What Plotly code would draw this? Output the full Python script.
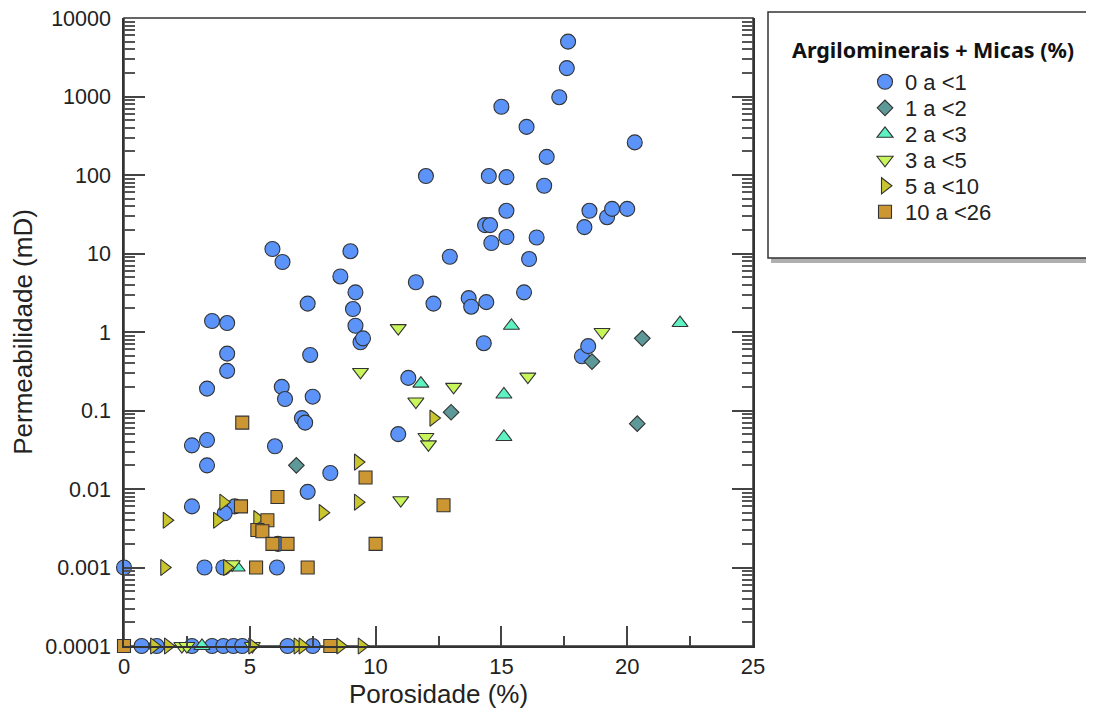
import plotly.graph_objects as go

# ---- data (porosity %, permeability mD) ----
c0_x = [17.65, 17.6, 17.3, 15.0, 16.0, 20.3, 16.8, 16.7, 12.0, 14.5, 15.2, 15.2, 14.35, 14.55, 14.6,
        15.2, 16.4, 16.1, 15.9, 18.3, 18.5, 19.2, 19.4, 20.0, 18.2, 18.45, 5.9, 6.3, 9.0, 8.6,
        11.6, 12.95, 9.2, 9.1, 7.3, 12.3, 13.7, 13.8, 14.4, 9.2, 9.4, 9.5, 14.3, 3.5, 4.1,
        4.1, 4.1, 3.3, 6.27, 6.4, 7.4, 7.5, 7.07, 7.2, 11.3, 10.9, 2.7, 3.3, 3.3, 6.0,
        8.2, 7.3, 2.7, 4.4, 4.0, 6.12, 0.0, 3.2, 3.95, 6.08,
        0.7, 1.3, 2.7, 3.5, 3.95, 4.35, 4.7, 6.5, 7.5]
c0_y = [5000, 2300, 980, 740, 410, 260, 170, 73, 97, 97, 94, 35, 23, 23, 13.6,
        16.2, 16, 8.5, 3.2, 21.7, 35, 29, 37, 37, 0.49, 0.66, 11.4, 7.8, 10.7, 5.1,
        4.3, 9.1, 3.2, 1.96, 2.3, 2.3, 2.7, 2.1, 2.4, 1.2, 0.74, 0.83, 0.72, 1.38, 1.3,
        0.53, 0.32, 0.19, 0.2, 0.14, 0.51, 0.15, 0.08, 0.07, 0.26, 0.05, 0.036, 0.042, 0.02, 0.035,
        0.016, 0.0092, 0.006, 0.006, 0.0049, 0.002, 0.001, 0.001, 0.001, 0.001,
        0.0001, 0.0001, 0.0001, 0.0001, 0.0001, 0.0001, 0.0001, 0.0001, 0.0001]

c1_x = [6.85, 13.0, 18.6, 20.6, 20.4]
c1_y = [0.02, 0.095, 0.42, 0.83, 0.068]

c2_x = [15.4, 22.1, 11.8, 15.1, 15.1, 4.5, 3.1]
c2_y = [1.2, 1.3, 0.22, 0.16, 0.046, 0.001, 0.0001]

c3_x = [10.9, 19.0, 9.4, 13.1, 16.05, 11.6, 12.0, 12.1, 11.0, 4.3, 2.3, 2.5, 5.1]
c3_y = [1.12, 1.0, 0.31, 0.2, 0.27, 0.13, 0.046, 0.037, 0.0072, 0.0011, 0.0001, 0.0001, 0.0001]

c4_x = [12.3, 9.3, 9.3, 7.9, 3.95, 1.7, 3.7, 5.3, 1.6, 4.1, 1.2, 1.75, 5.1, 6.9, 7.1, 8.6, 9.45]
c4_y = [0.08, 0.022, 0.0068, 0.005, 0.0068, 0.004, 0.004, 0.0042, 0.001, 0.001,
        0.0001, 0.0001, 0.0001, 0.0001, 0.0001, 0.0001, 0.0001]

c5_x = [4.7, 9.6, 12.7, 6.1, 4.65, 5.7, 5.3, 5.5, 5.9, 6.5, 10.0, 5.25, 7.3, 0.0, 8.2]
c5_y = [0.07, 0.014, 0.0062, 0.0079, 0.006, 0.004, 0.003, 0.0029, 0.002, 0.002, 0.002,
        0.001, 0.001, 0.0001, 0.0001]

names = ["0 a <1", "1 a <2", "2 a <3", "3 a <5", "5 a <10", "10 a <26"]
legend_title = "Argilominerais + Micas (%)"
symbols = ["circle", "diamond", "triangle-up", "triangle-down", "triangle-right", "square"]
colors = ["#5b93f8", "#5e9999", "#5ef2c2", "#c8f55a", "#c9c52e", "#cc9633"]
sizes = [15, 12, 14, 14, 14, 13]

y_ticks = [1e-4, 1e-3, 1e-2, 1e-1, 1, 10, 100, 1000, 10000]
y_ticktext = ["0.0001", "0.001", "0.01", "0.1", "1", "10", "100", "1000", "10000"]
x_ticks = [0, 5, 10, 15, 20, 25]
x_minor_ticks = [2.5, 7.5, 12.5, 17.5, 22.5]

series = [(c0_x, c0_y), (c1_x, c1_y), (c2_x, c2_y), (c3_x, c3_y), (c4_x, c4_y), (c5_x, c5_y)]

# ---- geometry (page pixels; the html body adds an 8px offset) ----
W, H = 1086, 705
ML, MT, MR, MB = 116, 10, 341, 67
PX0, PY0 = ML + 8, MT + 8            # page position of plot top-left
PLOT_W, PLOT_H = W - ML - MR, H - MT - MB

def px_x(v):
    return (v - PX0) / PLOT_W

def px_y(v):
    return (PY0 + PLOT_H - v) / PLOT_H

box_l, box_r, box_t, box_b = 768, 1091, 12, 258
leg_marker_x = 885
leg_first_y, leg_step = 82, 26

fig = go.Figure()
legend_keys = ["legend"] + [f"legend{i + 1}" for i in range(1, len(names))]
for i, (xs, ys) in enumerate(series):
    fig.add_trace(go.Scatter(
        x=xs, y=ys, mode="markers", name=names[i], legend=legend_keys[i],
        marker=dict(symbol=symbols[i], size=sizes[i], color=colors[i], opacity=1,
                    line=dict(color="#333333", width=1.1)),
        cliponaxis=False, showlegend=True,
    ))

legend_font = dict(family="Liberation Sans, Arial, sans-serif", size=22, color="#222")
legends = {}
for i, key in enumerate(legend_keys):
    legends[key] = dict(
        x=px_x(leg_marker_x - 20), y=px_y(leg_first_y + leg_step * i),
        xanchor="left", yanchor="middle", font=legend_font,
        bgcolor="rgba(0,0,0,0)", borderwidth=0, itemclick=False, itemdoubleclick=False,
    )

minor_y = [m * 10 ** e for e in range(-4, 4) for m in range(2, 10)]

tick_font = dict(family="Liberation Sans, Arial, sans-serif", size=22, color="#222")
title_font = dict(family="Liberation Sans, Arial, sans-serif", size=26, color="#222")

x_common = dict(
    range=[0, 25], tickvals=x_ticks, ticks="inside", ticklen=20,
    tickwidth=1.5, tickcolor="#444", showline=True, linewidth=1.5, linecolor="#333",
    showgrid=False, zeroline=False,
    minor=dict(tickvals=x_minor_ticks, ticks="inside", ticklen=10,
               tickwidth=1.5, tickcolor="#444", showgrid=False),
)

fig.update_layout(
    width=W, height=H,
    margin=dict(l=ML, r=MR, t=MT, b=MB, autoexpand=False),
    plot_bgcolor="white", paper_bgcolor="white",
    showlegend=True,
    xaxis=dict(
        **x_common, mirror=False, tickfont=tick_font, ticklabeloverflow="allow",
        title=dict(text="Porosidade (%)", font=title_font, standoff=6),
    ),
    # top axis: carries the mirrored ticks of the frame
    xaxis2=dict(**x_common, overlaying="x", side="top", anchor="y",
                showticklabels=False, fixedrange=True),
    yaxis=dict(
        type="log", range=[-4, 4], tickvals=y_ticks, ticktext=y_ticktext,
        ticks="inside", ticklen=21, tickwidth=1.5, tickcolor="#444", showline=True,
        linewidth=1.5, linecolor="#333", mirror="allticks", showgrid=False, zeroline=False,
        tickfont=dict(tick_font, size=21.5), ticklabelstandoff=7, ticklabeloverflow="allow",
        minor=dict(tickvals=minor_y, ticks="inside", ticklen=11, tickwidth=1.5,
                   tickcolor="#555", showgrid=False),
        title=dict(text="Permeabilidade (mD)", font=title_font, standoff=10),
    ),
    shapes=[
        # plot frame (keeps the top edge visible)
        dict(type="rect", xref="paper", yref="paper", x0=0, x1=1, y0=0, y1=1,
             line=dict(color="#333", width=1.5), fillcolor="rgba(0,0,0,0)", layer="below"),
        # legend box shadow + box
        dict(type="rect", xref="paper", yref="paper",
             x0=px_x(box_l + 3), x1=px_x(box_r + 3), y0=px_y(box_b + 5), y1=px_y(box_b),
             fillcolor="rgba(110,110,110,0.55)", line=dict(width=0), layer="above"),
        dict(type="rect", xref="paper", yref="paper",
             x0=px_x(box_l), x1=px_x(box_r), y0=px_y(box_b), y1=px_y(box_t),
             fillcolor="white", line=dict(color="#333", width=1.5), layer="above"),
    ],
    annotations=[
        dict(text=f"<b>{legend_title}</b>", xref="paper", yref="paper",
             x=px_x(790), y=px_y(50), xanchor="left", yanchor="middle", showarrow=False,
             font=dict(family="Noto Sans, sans-serif", size=21.5, color="#111")),
    ],
    **legends,
)

fig.write_html("out.html")
